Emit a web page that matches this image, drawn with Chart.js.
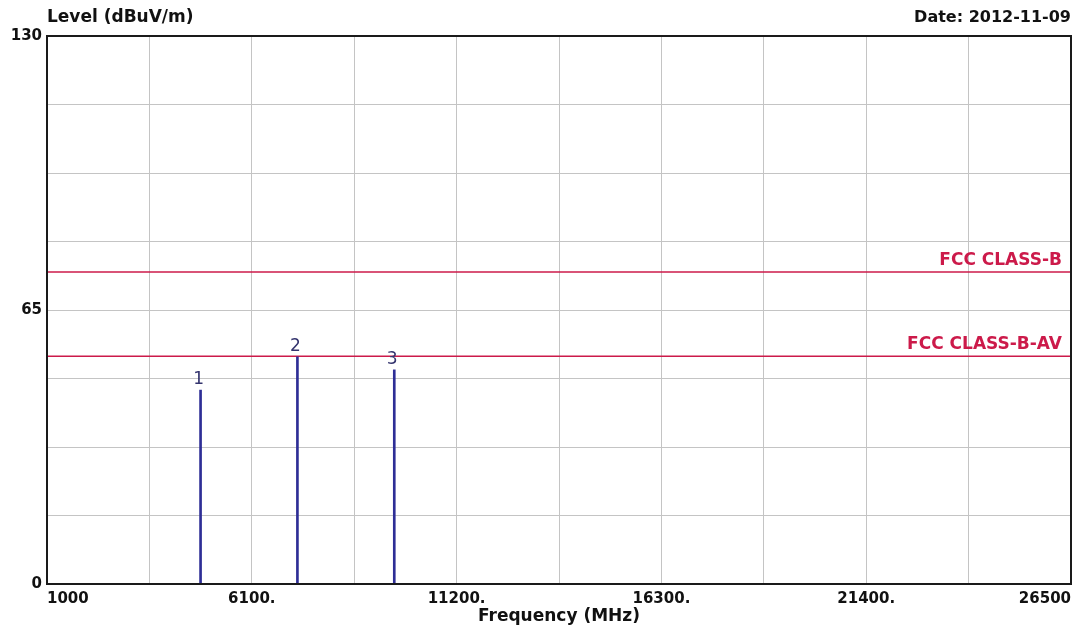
<!DOCTYPE html>
<html>
<head>
<meta charset="utf-8">
<script src="https://cdn.jsdelivr.net/npm/chart.js@4.4.1/dist/chart.umd.min.js"></script>
<style>
  html, body { margin: 0; padding: 0; background: #fff; }
</style>
</head>
<body>
<canvas id="emiChart" width="1089" height="639"></canvas>
<script>
// peaks found in the scan
const markerNames = ['1', '2', '3'];
const markerFreq = [4824, 7236, 9648];
const markerLevel = [46.0, 53.9, 50.8];

// limit lines
const limitNames = ['FCC CLASS-B', 'FCC CLASS-B-AV'];
const limitLevel = [74, 54];

const freqRange = [1000, 26500];
const levelRange = [0, 130];

// axis ticks (grid lines) and their labels
const xTickValues = [1000, 3550, 6100, 8650, 11200, 13750, 16300, 18850, 21400, 23950, 26500];
const xTickLabels = ['1000', '', '6100.', '', '11200.', '', '16300.', '', '21400.', '', '26500'];
const yTickValues = [0, 16.25, 32.5, 48.75, 65, 81.25, 97.5, 113.75, 130];
const yTickLabels = ['0', '', '', '', '65', '', '', '', '130'];

const headerLeft = 'Level (dBuV/m)';
const headerRight = 'Date: 2012-11-09';

const FONT = '"DejaVu Sans", Verdana, sans-serif';
const LIMIT_COLOR = '#cc1a4a';
const MARK_COLOR = '#2e2e96';

const limitSets = limitNames.map((name, i) => ({
  type: 'line',
  label: name,
  data: [{ x: freqRange[0], y: limitLevel[i] }, { x: freqRange[1], y: limitLevel[i] }],
  borderColor: LIMIT_COLOR,
  borderWidth: 1.5,
  pointRadius: 0
}));

// texts, frame and marker numbers
const annotate = {
  id: 'annotate',
  afterDatasetsDraw(chart) {
    const { ctx, chartArea: a, scales: { x, y } } = chart;
    ctx.save();

    ctx.strokeStyle = '#1a1a1a';
    ctx.lineWidth = 2;
    ctx.strokeRect(a.left, a.top, a.right - a.left, a.bottom - a.top);

    ctx.font = 'bold 17px ' + FONT;
    ctx.fillStyle = LIMIT_COLOR;
    ctx.textAlign = 'right';
    ctx.textBaseline = 'alphabetic';
    limitNames.forEach((n, i) => {
      ctx.fillText(n, a.right - 9, y.getPixelForValue(limitLevel[i]) - 7);
    });

    ctx.font = '17px ' + FONT;
    ctx.fillStyle = '#34346e';
    ctx.textAlign = 'center';
    markerNames.forEach((n, i) => {
      ctx.fillText(n, x.getPixelForValue(markerFreq[i]) - 2, y.getPixelForValue(markerLevel[i]) - 6);
    });

    ctx.fillStyle = '#111';
    ctx.textAlign = 'left';
    ctx.font = 'bold 17px ' + FONT;
    ctx.fillText(headerLeft, a.left, 22);
    ctx.textAlign = 'right';
    ctx.font = 'bold 16px ' + FONT;
    ctx.fillText(headerRight, a.right, 22);

    ctx.restore();
  }
};

new Chart(document.getElementById('emiChart'), {
  type: 'bar',
  data: {
    datasets: [
      {
        label: 'Peaks',
        data: markerFreq.map((f, i) => ({ x: f, y: markerLevel[i] })),
        backgroundColor: MARK_COLOR,
        barThickness: 2
      },
      ...limitSets
    ]
  },
  options: {
    responsive: false,
    animation: false,
    devicePixelRatio: 1,
    layout: { padding: { left: 0, top: 36, right: 18, bottom: 0 } },
    plugins: {
      legend: { display: false },
      tooltip: { enabled: false }
    },
    scales: {
      x: {
        type: 'linear',
        offset: false,
        min: freqRange[0],
        max: freqRange[1],
        afterBuildTicks(scale) { scale.ticks = xTickValues.map(v => ({ value: v })); },
        afterFit(scale) { scale.height = 55; },
        grid: { color: '#c4c4c4', lineWidth: 1, drawTicks: false, offset: false },
        border: { display: false },
        ticks: {
          autoSkip: false,
          maxRotation: 0,
          align: 'inner',
          padding: 6,
          color: '#111',
          font: { family: FONT, size: 15, weight: 'bold' },
          callback: (v, i) => xTickLabels[i]
        },
        title: {
          display: true,
          text: 'Frequency (MHz)',
          color: '#111',
          font: { family: FONT, size: 17, weight: 'bold' },
          padding: { top: 0, bottom: 12 }
        }
      },
      y: {
        min: levelRange[0],
        max: levelRange[1],
        afterBuildTicks(scale) { scale.ticks = yTickValues.map(v => ({ value: v })); },
        afterFit(scale) { scale.width = 47; },
        grid: { color: '#c4c4c4', lineWidth: 1, drawTicks: false },
        border: { display: false },
        ticks: {
          padding: 5,
          color: '#111',
          font: { family: FONT, size: 15, weight: 'bold' },
          callback: (v, i) => yTickLabels[i]
        }
      }
    }
  },
  plugins: [annotate]
});
</script>
</body>
</html>
